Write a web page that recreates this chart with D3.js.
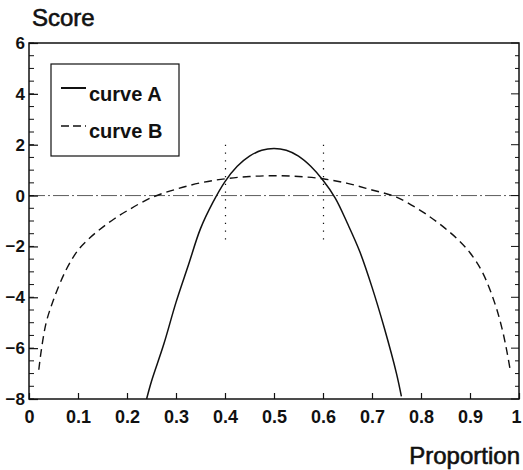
<!DOCTYPE html>
<html>
<head>
<meta charset="utf-8">
<script src="https://cdn.jsdelivr.net/npm/d3@7"></script>
<style>
  body { margin: 0; background: #fff; }
  text { font-family: "Liberation Sans", Arial, sans-serif; fill: #111; }
</style>
</head>
<body>
<svg></svg>
<script>
// values
var curveA_x = [0.24, 0.25, 0.275, 0.3, 0.325, 0.35, 0.375, 0.4, 0.425, 0.45, 0.475, 0.5,
                0.525, 0.55, 0.575, 0.6, 0.625, 0.65, 0.675, 0.7, 0.725, 0.75, 0.76]
var curveA_y = [-8.0, -7.3, -5.85, -4.2, -2.75, -1.3, -0.28, 0.55, 1.15, 1.55, 1.78, 1.85,
                1.78, 1.55, 1.15, 0.6, -0.1, -1.1, -2.2, -3.6, -5.2, -7.0, -7.9]

var curveB_x = [0.02, 0.025, 0.035, 0.05, 0.075, 0.1, 0.125, 0.15, 0.175, 0.2, 0.25, 0.3, 0.35, 0.4, 0.45, 0.5,
                0.55, 0.6, 0.65, 0.7, 0.75, 0.8, 0.825, 0.85, 0.875, 0.9, 0.925, 0.95, 0.965, 0.975, 0.982]
var curveB_y = [-6.85, -6.1, -5.0, -4.1, -2.95, -2.15, -1.65, -1.25, -0.9, -0.6, -0.08, 0.25, 0.5, 0.66, 0.75, 0.78,
                0.75, 0.66, 0.48, 0.22, -0.06, -0.6, -0.93, -1.3, -1.72, -2.25, -3.0, -4.2, -5.2, -6.1, -6.85]

var xTicks = [0, 0.1, 0.2, 0.3, 0.4, 0.5, 0.6, 0.7, 0.8, 0.9, 1]
var xTickLabels = ["0", "0.1", "0.2", "0.3", "0.4", "0.5", "0.6", "0.7", "0.8", "0.9", "1"]
var yTicks = [-8, -6, -4, -2, 0, 2, 4, 6]
var yMinorTicks = d3.range(-8, 6.01, 0.5)
var markerX = [0.4, 0.6]
var markerY = [2.0, -1.8]
var legendNames = ["curve A", "curve B"]

var dimensions = {
    width: 523,
    height: 470,
    margin: { top: 43, bottom: 71, left: 29, right: 4 }
}

var svg = d3.select("svg")
            .attr("width", dimensions.width)
            .attr("height", dimensions.height)

var x = d3.scaleLinear()
          .domain([0, 1])
          .range([dimensions.margin.left, dimensions.width - dimensions.margin.right])
var y = d3.scaleLinear()
          .domain([-8, 6])
          .range([dimensions.height - dimensions.margin.bottom, dimensions.margin.top])

svg.append("clipPath").attr("id", "clip")
   .append("rect")
   .attr("x", x(0)).attr("y", y(6))
   .attr("width", x(1) - x(0)).attr("height", y(-8) - y(6))

// zero line
svg.append("line")
   .attr("x1", x(0)).attr("x2", x(1))
   .attr("y1", y(0)).attr("y2", y(0))
   .attr("stroke", "#333").attr("stroke-width", 0.8)
   .attr("stroke-dasharray", "16,3,2,3")

// dotted markers
svg.selectAll(".marker")
   .data(markerX)
   .enter()
   .append("line")
   .attr("x1", d => Math.round(x(d)) + 0.5).attr("x2", d => Math.round(x(d)) + 0.5)
   .attr("y1", y(markerY[0])).attr("y2", y(markerY[1]))
   .attr("stroke", "#111").attr("stroke-width", 1.2)
   .attr("stroke-dasharray", "1.3,6.5")

var line = d3.line()
             .x(d => x(d[0]))
             .y(d => y(d[1]))
             .curve(d3.curveCatmullRom)

svg.append("path")
   .attr("d", line(d3.zip(curveA_x, curveA_y)))
   .attr("fill", "none").attr("stroke", "#111").attr("stroke-width", 1.5)
   .attr("clip-path", "url(#clip)")

svg.append("path")
   .attr("d", line(d3.zip(curveB_x, curveB_y)))
   .attr("fill", "none").attr("stroke", "#111").attr("stroke-width", 1.4)
   .attr("stroke-dasharray", "8,5")
   .attr("clip-path", "url(#clip)")

// frame
svg.append("rect")
   .attr("x", x(0)).attr("y", y(6))
   .attr("width", x(1) - x(0)).attr("height", y(-8) - y(6))
   .attr("fill", "none").attr("stroke", "#111").attr("stroke-width", 1.5)

// axes with inward ticks
var xAxis = d3.axisBottom(x)
              .tickValues(xTicks)
              .tickSize(-6)
              .tickPadding(11)
              .tickFormat((d, i) => xTickLabels[i])
var gx = svg.append("g")
            .attr("transform", "translate(0," + y(-8) + ")")
            .call(xAxis)
gx.select(".domain").remove()
gx.selectAll("line").attr("stroke", "#111").attr("stroke-width", 1.2)
gx.selectAll("text")
  .style("font-size", "18px").style("font-weight", "bold")
  .style("font-family", "Liberation Sans, Arial, sans-serif")
  .attr("dx", d => d === 1 ? -3 : 0)

var yAxis = d3.axisLeft(y)
              .tickValues(yTicks)
              .tickSize(-9)
              .tickPadding(4)
var gy = svg.append("g")
            .attr("transform", "translate(" + x(0) + ",0)")
            .call(yAxis)
gy.select(".domain").remove()
gy.selectAll("line").attr("stroke", "#111").attr("stroke-width", 1.2)
gy.selectAll("text")
  .style("font-size", "17px").style("font-weight", "bold")
  .style("font-family", "Liberation Sans, Arial, sans-serif")

svg.append("g")
   .selectAll("line")
   .data(yMinorTicks)
   .enter()
   .append("line")
   .attr("x1", x(0)).attr("x2", x(0) + 5)
   .attr("y1", d => y(d)).attr("y2", d => y(d))
   .attr("stroke", "#111").attr("stroke-width", 1)

// right side ticks
svg.append("g")
   .selectAll("line")
   .data(yMinorTicks)
   .enter()
   .append("line")
   .attr("x1", x(1)).attr("x2", d => x(1) - (d % 2 === 0 ? 8 : 4))
   .attr("y1", d => y(d)).attr("y2", d => y(d))
   .attr("stroke", "#111").attr("stroke-width", 1)

// titles
svg.append("text")
   .attr("x", 32).attr("y", 26)
   .style("font-size", "24px")
   .attr("stroke", "#111").attr("stroke-width", 0.6)
   .text("Score")

svg.append("text")
   .attr("x", 520).attr("y", 464)
   .attr("text-anchor", "end")
   .style("font-size", "24px")
   .attr("stroke", "#111").attr("stroke-width", 0.6)
   .text("Proportion")

// legend
var legend = svg.append("g")
legend.append("rect")
      .attr("x", 51).attr("y", 64)
      .attr("width", 128).attr("height", 92)
      .attr("fill", "#fff").attr("stroke", "#111").attr("stroke-width", 1.2)

legend.selectAll(".lline")
      .data(legendNames)
      .enter()
      .append("line")
      .attr("x1", 61).attr("x2", 86)
      .attr("y1", (d, i) => 88 + i * 38).attr("y2", (d, i) => 88 + i * 38)
      .attr("stroke", "#111").attr("stroke-width", (d, i) => i === 0 ? 2 : 1.4)
      .attr("stroke-dasharray", (d, i) => i === 0 ? null : "8,4")

legend.selectAll(".ltext")
      .data(legendNames)
      .enter()
      .append("text")
      .attr("x", 89)
      .attr("y", (d, i) => 101 + i * 37)
      .style("font-size", "20px").style("font-weight", "bold")
      .text(d => d)
</script>
</body>
</html>
